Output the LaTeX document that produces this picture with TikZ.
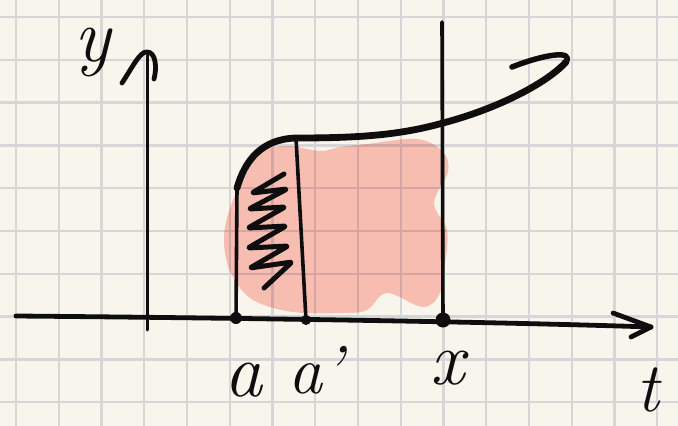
\documentclass[tikz,border=0pt]{standalone}
\usepackage{tikz}
\usepackage{xcolor}
\usetikzlibrary{positioning}
\definecolor{SkPaper}{HTML}{F8F6EC}
\definecolor{SkGrid}{HTML}{D6D6D6}
\definecolor{SkPink}{HTML}{FFC4C0}
\definecolor{SkInk}{HTML}{0E0E0E}

\begin{document}
\begin{tikzpicture}[
    x=1pt,y=-1pt,
    gridline/.style={draw=SkGrid,line width=2.3pt},
    ink/.style={draw=SkInk,line width=3.6pt,line cap=round,line join=round},
    axisink/.style={ink,line width=4.8pt},
    heavyink/.style={ink,line width=6.8pt},
    dotmark/.style={circle,fill=SkInk,inner sep=0pt,minimum size=#1},
    lbl/.style={font=\fontsize{76}{76}\selectfont\itshape,text=SkInk,inner sep=0pt}
  ]
  \useasboundingbox (0,0) rectangle (678,426);
  \fill[SkPaper] (0,0) rectangle (678,426);
  \foreach \i in {0,...,15} \draw[gridline] (16+42.75*\i,0) -- (16+42.75*\i,426);
  \foreach \j in {0,...,9} \draw[gridline] (0,17+42.8*\j) -- (678,17+42.8*\j);

  \begin{scope}[blend mode=multiply]
    \fill[SkPink] plot[smooth cycle,tension=0.6] coordinates {
      (287,146) (320,151) (340,147) (367,144) (417,139) (443,152) (448,172)
      (434,203) (447,230) (445,263) (440,293) (423,307) (387,293) (367,310)
      (343,313) (293,312) (253,300) (233,277) (225,253) (225,227) (233,200)
      (242,182) (260,153)};
  \end{scope}

  \coordinate (yBase) at (147,330);
  \coordinate (yTip) at (147,52);
  \coordinate (xBase) at (16,316);
  \coordinate (xTip) at (651,327);
  \coordinate (ptA) at (236,318);
  \coordinate (ptAp) at (306,320);
  \coordinate (ptX) at (443,320);
  \coordinate (xTop) at (442,22);
  \coordinate (curveStart) at (237,188);
  \coordinate (curveKnee) at (296,138);
  \coordinate (curveX) at (443,123);
  \coordinate (hookTip) at (566,62);
  \coordinate (hookEnd) at (512,67);

  \draw[ink,line width=3pt] (yBase) -- (yTip);
  \draw[axisink] (122,83) .. controls (132,68) and (140,51) .. (yTip)
    .. controls (156,52) and (157,68) .. (154,79);
  \draw[axisink] (xBase) .. controls (250,318) and (500,322) .. (xTip);
  \draw[axisink] (613,313) -- (xTip) -- (631,337);

  \draw[ink] (ptA) -- (curveStart);
  \draw[ink] (ptAp) -- (curveKnee);
  \draw[ink] (ptX) -- (xTop);
  \draw[ink,line width=5pt,rounded corners=2pt] (284,174) -- (252,193) -- (287,189)
    -- (249,209) -- (285,207) -- (248,228) -- (286,226) -- (248,248) -- (288,246)
    -- (250,268) -- (292,262) -- (264,288);

  \draw[heavyink] (curveStart) .. controls (245,160) and (262,139) .. (curveKnee)
    .. controls (360,138) and (400,135) .. (curveX)
    .. controls (500,108) and (548,82) .. (hookTip);
  \draw[ink,line width=5.5pt] (hookTip) .. controls (574,50) and (545,54) .. (hookEnd);

  \node[dotmark=12pt] (dotA) at (ptA) {};
  \node[dotmark=10pt] (dotAp) at (ptAp) {};
  \node[dotmark=15pt] (dotX) at (ptX) {};

  \node[lbl] (labY) at (93,52) {y};
  \node[lbl] (labA) at (243,380) {a};
  \node[lbl,font=\fontsize{68}{68}\selectfont\itshape] (labAp) at (316,370) {a'};
  \node[lbl] (labX) at (448,368) {x};
  \node[lbl,font=\fontsize{70}{70}\selectfont\itshape] (labT) at (648,390) {t};
\end{tikzpicture}
\end{document}
